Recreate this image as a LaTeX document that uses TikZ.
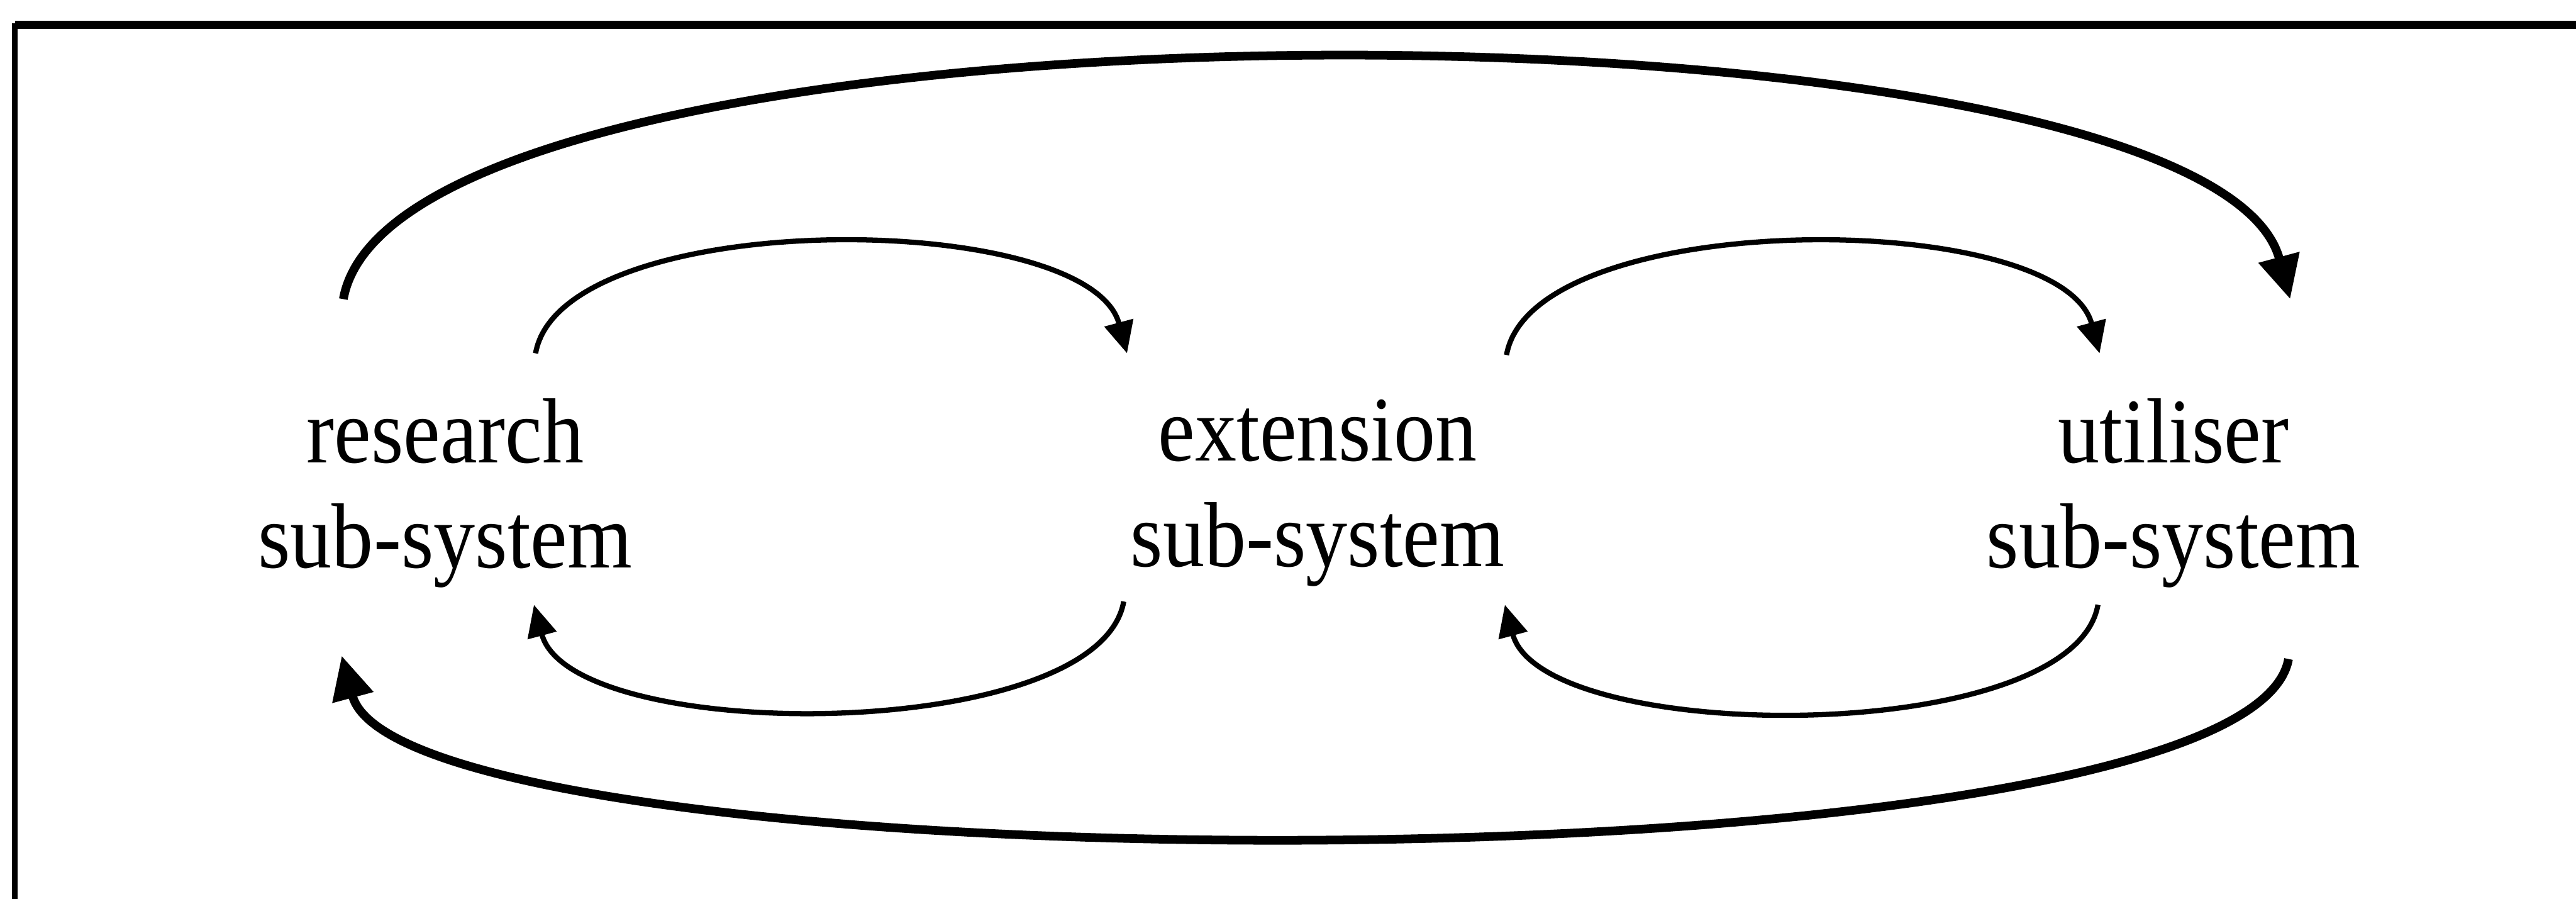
\documentclass[tikz,border=0pt]{standalone}
\usepackage{fontspec}
\setmainfont[FakeStretch=0.9]{Liberation Serif}
\usepackage{tikz}
\usetikzlibrary{arrows.meta}

\begin{document}
\begin{tikzpicture}[
    x=0.2mm, y=0.2mm,
    system/.style={align=center, inner sep=0pt, font=\fontsize{32}{36.5}\selectfont},
    inner/.style={-{Triangle[length=11pt,width=10pt]}, line width=1.8pt},
    outer/.style={-{Triangle[length=15pt,width=14pt]}, line width=3pt}
]
    \useasboundingbox (0,0) rectangle (1568,547);
    % frame (top and left edge only)
    \draw[line width=2.8pt] (9,532) -- (1568,532);
    \draw[line width=2pt] (9,533) -- (9,0);

    \node[system] (research) at (271,247) {research\\sub-system};
    \node[system] (extension) at (802,247) {extension\\sub-system};
    \node[system] (utiliser) at (1323,247) {utiliser\\sub-system};

    % neighbour loops
    \draw[inner] ([shift={(55,85)}]research.center) to[out=80, in=105, looseness=0.65] ([shift={(-116,85)}]extension.center);
    \draw[inner] ([shift={(-118,-66)}]extension.center) to[out=-100, in=-75, looseness=0.63] ([shift={(54,-68)}]research.center);
    \draw[inner] ([shift={(115,84)}]extension.center) to[out=80, in=105, looseness=0.65] ([shift={(-45,85)}]utiliser.center);
    \draw[inner] ([shift={(-46,-68)}]utiliser.center) to[out=-100, in=-75, looseness=0.63] ([shift={(114,-68)}]extension.center);

    % long loop
    \draw[outer] ([shift={(-62,118)}]research.center) to[out=80, in=105, looseness=0.43] ([shift={(71,118)}]utiliser.center);
    \draw[outer] ([shift={(70,-101)}]utiliser.center) to[out=-100, in=-75, looseness=0.32] ([shift={(-63,-99)}]research.center);
\end{tikzpicture}
\end{document}
